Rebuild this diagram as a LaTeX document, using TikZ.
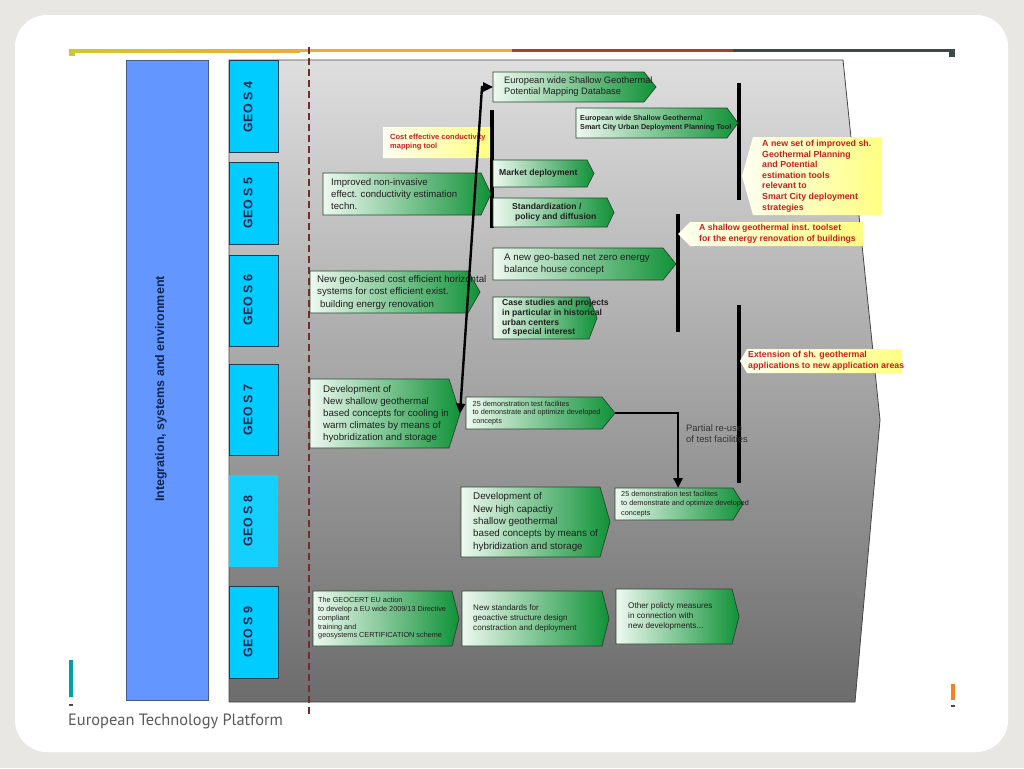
\documentclass[tikz,border=0pt]{standalone}
\usepackage{fontspec}
\setmainfont{Liberation Sans}
\newfontfamily\etpfont{PT Sans}
\usetikzlibrary{arrows.meta}
\definecolor{pagebg}{RGB}{233,231,228}
\definecolor{topA}{RGB}{208,200,40}
\definecolor{topAm}{RGB}{216,196,42}
\definecolor{topB}{RGB}{240,170,55}
\definecolor{topC}{RGB}{160,68,42}
\definecolor{topD}{RGB}{58,74,72}
\definecolor{teal1}{RGB}{0,160,160}
\definecolor{orng}{RGB}{240,130,40}
\definecolor{blueA}{RGB}{100,150,255}
\definecolor{blueB}{RGB}{70,90,140}
\definecolor{cyanA}{RGB}{0,204,255}
\definecolor{cyanB}{RGB}{30,60,80}
\definecolor{navy}{RGB}{15,40,80}
\definecolor{panelT}{RGB}{222,222,222}
\definecolor{panelB}{RGB}{108,108,108}
\definecolor{panelE}{RGB}{70,70,70}
\definecolor{dashc}{RGB}{115,45,45}
\definecolor{gL}{RGB}{238,249,240}
\definecolor{gM}{RGB}{125,205,145}
\definecolor{gR}{RGB}{16,146,56}
\definecolor{gE}{RGB}{40,70,45}
\definecolor{yL}{RGB}{255,255,240}
\definecolor{yR}{RGB}{255,255,130}
\definecolor{redT}{RGB}{205,30,30}
\definecolor{etp}{RGB}{90,90,90}

% green arrow box: name, x1, y1, tip x, y2, depth, node options, text
\newcommand\gbox[8]{%
  \path[gshape] (#2,#3) -- ({#4-#6},#3) -- (#4,{(#3+#5)/2}) -- ({#4-#6},#5) -- (#2,#5) -- cycle;
  \node[gtxt,anchor=west,#7] (#1) at (#2,{(#3+#5)/2}) {#8};
  \coordinate (#1-w) at (#2,{(#3+#5)/2});
  \coordinate (#1-tip) at (#4,{(#3+#5)/2});
}
% yellow callout: name, point x, y1, x2, y2, depth, node options, text
\newcommand\ybox[8]{%
  \path[yshape] (#2,{(#3+#5)/2}) -- ({#2+#6},#3) -- (#4,#3) -- (#4,#5) -- ({#2+#6},#5) -- cycle;
  \node[ytxt,anchor=west,#7] (#1) at (#2,{(#3+#5)/2}) {#8};
  \coordinate (#1-pt) at (#2,{(#3+#5)/2});
}

\begin{document}
\begin{tikzpicture}[x=1pt,y=-1pt,
  gshape/.style={draw=gE,line width=0.7,left color=gL,middle color=gM,right color=gR},
  gtxt/.style={inner sep=0,align=left,text=black!88},
  yshape/.style={left color=yL,right color=yR},
  ytxt/.style={inner sep=0,align=left,text=redT},
  geobox/.style={draw=cyanB,line width=0.8,fill=cyanA,minimum width=49,minimum height=92,anchor=north west,inner sep=0},
  geotxt/.style={rotate=90,font=\bfseries\fontsize{12.5}{14}\selectfont,text=navy,inner sep=0},
  bar/.style={line width=3.4,black},
  link/.style={line width=2.4,black},
  tip/.style={-{Triangle[length=10pt,width=9pt]}}
]
\useasboundingbox (0,0) rectangle (1024,768);
% slide background
\fill[pagebg] (0,0) rectangle (1024,768);
\fill[white,rounded corners=32] (15,15) rectangle (1008,752);
% top rule
\shade[left color=topA,middle color=topAm,right color=topB] (70,49.5) rectangle (300,52.5);
\fill[topB] (300,49.5) rectangle (512,52.5);
\fill[topC] (512,49.5) rectangle (733,52.5);
\fill[topD] (733,49.5) rectangle (953,52.5);
\fill[topA] (69,49.5) rectangle (75,56);
\fill[topD] (949,49.5) rectangle (955,57);
% bottom marks
\fill[teal1] (69,660) rectangle (72.5,697);
\fill[black!70] (69,704) rectangle (72.5,706);
\fill[orng] (951,684) rectangle (955,700);
\fill[black!70] (951,705) rectangle (955,707);
\node[anchor=base west,inner sep=0,font=\etpfont\fontsize{16.4}{18}\selectfont,text=etp] (etptxt) at (68,725) {European Technology Platform};

% blue column
\node[draw=blueB,line width=0.8,fill=blueA,minimum width=82,minimum height=640,anchor=north west,inner sep=0] (integ) at (126,60) {};
\node[rotate=90,font=\bfseries\fontsize{12.5}{14}\selectfont,text=navy,inner sep=0] (integt) at (161,389) {Integration, systems and environment};

% grey panel
\path[draw=panelE,line width=0.8,top color=panelT,bottom color=panelB] (229,60) -- (843,60) -- (880,420) -- (855,702) -- (229,702) -- cycle;

% GEO boxes
\node[geobox] (g4) at (229,60) {};
\node[geobox,minimum height=82] (g5) at (229,162) {};
\node[geobox,minimum height=91] (g6) at (229,255) {};
\node[geobox,minimum height=91] (g7) at (229,364) {};
\node[geobox,draw=none,fill=cyanA!92!white] (g8) at (229,475) {};
\node[geobox] (g9) at (229,586) {};
\node[geotxt] (g4t) at (248,107) {GEO S 4};
\node[geotxt] (g5t) at (248,203) {GEO S 5};
\node[geotxt] (g6t) at (248,300) {GEO S 6};
\node[geotxt] (g7t) at (248,410) {GEO S 7};
\node[geotxt] (g8t) at (248,521) {GEO S 8};
\node[geotxt] (g9t) at (248,632) {GEO S 9};

% dashed separator
\draw[dashc,line width=2.8,dash pattern=on 7pt off 4pt] (309,47) -- (309,716);

% bars (brackets)
\coordinate (barA1) at (492,110); \coordinate (barA2) at (492,228);
\coordinate (barB1) at (739,83);  \coordinate (barB2) at (739,200);
\coordinate (barC1) at (678,214); \coordinate (barC2) at (678,332);
\coordinate (barD1) at (739,305); \coordinate (barD2) at (739,483);
\draw[bar] (barA1) -- (barA2);
\draw[bar] (barB1) -- (barB2);
\draw[bar] (barC1) -- (barC2);
\draw[bar] (barD1) -- (barD2);

% green boxes
\gbox{eu1}{493}{72}{656}{102}{12}{xshift=11,font=\fontsize{9.3}{11}\selectfont}{European wide Shallow Geothermal\\Potential Mapping Database}
\gbox{eu2}{576}{108}{738}{138}{11}{xshift=4,font=\bfseries\fontsize{7.2}{8.6}\selectfont}{European wide Shallow Geothermal\\Smart City Urban Deployment Planning Tool}
\gbox{market}{493}{160}{594}{187}{7}{xshift=6,font=\bfseries\fontsize{8.6}{10}\selectfont}{Market deployment}
\gbox{std}{493}{198}{614}{227}{7}{xshift=19,font=\bfseries\fontsize{8.6}{10.4}\selectfont}{Standardization /\\\hspace*{3pt}policy and diffusion}
\gbox{impr}{323}{173}{491}{215}{10}{xshift=8,font=\fontsize{9.6}{12.3}\selectfont}{Improved non-invasive\\effect. conductivity estimation\\techn.}
\gbox{zero}{493}{248}{676}{280}{13}{xshift=11,font=\fontsize{9.7}{11.7}\selectfont}{A new geo-based net zero energy\\balance house concept}
\gbox{horiz}{310}{271}{480}{313}{12}{xshift=7,font=\fontsize{9.7}{12.5}\selectfont}{New geo-based cost efficient horizontal\\systems for cost efficient exist.\\\hspace*{3pt}building energy renovation}
\gbox{case}{493}{297}{597}{339}{8}{xshift=9,font=\bfseries\fontsize{8.6}{9.7}\selectfont}{Case studies and projects\\in particular in historical\\urban centers\\of special interest}
\gbox{dev1}{310}{379}{460}{448}{11}{xshift=13,font=\fontsize{9.7}{12}\selectfont}{Development of\\New shallow geothermal\\based concepts for cooling in\\warm climates by means of\\hyobridization and storage}
\gbox{d1}{466}{397}{615}{429}{13}{xshift=6.5,font=\fontsize{7.3}{8.8}\selectfont}{25 demonstration test facilites\\to demonstrate and optimize developed\\concepts}
\gbox{dev2}{461}{487}{610}{557}{10}{xshift=12,font=\fontsize{9.8}{12.3}\selectfont}{Development of\\New high capactiy\\shallow geothermal\\based concepts by means of\\hybridization and storage}
\gbox{d2}{615}{488}{743}{520}{10}{xshift=6,font=\fontsize{7.3}{9.3}\selectfont}{25 demonstration test facilites\\to demonstrate and optimize developed\\concepts}
\gbox{cert}{313}{591}{459}{646}{7}{xshift=5,font=\fontsize{7.3}{8.8}\selectfont}{The GEOCERT EU action\\to develop a EU wide 2009/13 Directive\\compliant\\training and\\geosystems CERTIFICATION scheme}
\gbox{stds}{462}{591}{609}{646}{7}{xshift=11,font=\fontsize{8.1}{10}\selectfont}{New standards for\\geoactive structure design\\constraction and deployment}
\gbox{other}{616}{589}{739}{644}{7}{xshift=12,font=\fontsize{8.2}{10}\selectfont}{Other policty measures\\in connection with\\new developments...}

% yellow callouts
\ybox{cost}{383}{127}{490}{158}{0}{xshift=7,font=\bfseries\fontsize{7.5}{9}\selectfont}{Cost effective conductivity\\mapping tool}
\ybox{newset}{742}{137}{882}{215}{11}{xshift=20,font=\bfseries\fontsize{8.8}{10.6}\selectfont}{A new set of improved sh.\\Geothermal Planning\\and Potential\\estimation tools\\relevant to\\Smart City deployment\\strategies}
\ybox{shallow}{678}{222}{863}{246}{12}{xshift=21,font=\bfseries\fontsize{8.7}{11}\selectfont}{A shallow geothermal inst. toolset\\for the energy renovation of buildings}
\ybox{ext}{740}{349}{902}{373}{7}{xshift=8,font=\bfseries\fontsize{8.8}{11}\selectfont}{Extension of sh. geothermal\\applications to new application areas}

% connectors
\coordinate (bend1) at (482,87);
\coordinate (d2-in) at (678,488);
\draw[link,{Triangle[length=10pt,width=9pt]}-{Triangle[length=10pt,width=9pt]}] (dev1-tip) -- (bend1) -- (eu1-w);
\draw[link,tip] (d1-tip) -| (d2-in);
\node[anchor=north west,inner sep=0,align=left,font=\fontsize{9.4}{11}\selectfont,text=black!80] (reuse) at (686,424) {Partial re-use\\of test facilities};
\end{tikzpicture}
\end{document}
